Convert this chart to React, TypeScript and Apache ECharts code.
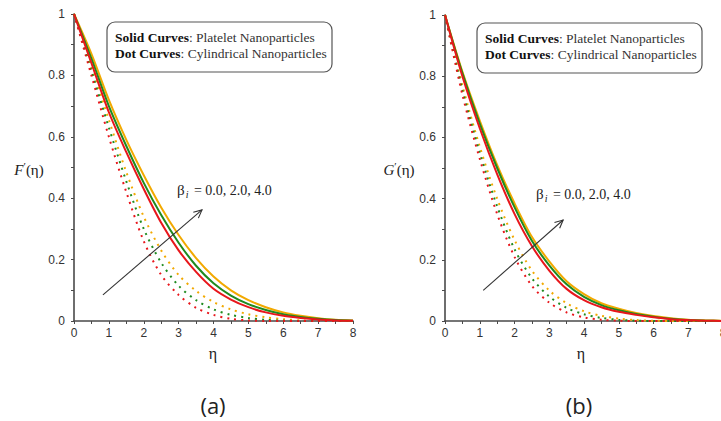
import React, { useEffect, useRef } from "react";
import * as echarts from "echarts";

const ETA = [0, 0.5, 1, 1.5, 2, 2.5, 3, 3.5, 4, 4.5, 5, 5.5, 6, 6.5, 7, 7.5, 8];

// (a) F'(eta)
const F_SOLID_RED = [1, 0.84, 0.68, 0.55, 0.43, 0.32, 0.23, 0.16, 0.105, 0.07, 0.045, 0.028, 0.017, 0.01, 0.005, 0.002, 0.001];
const F_SOLID_GREEN = [1, 0.855, 0.7, 0.57, 0.45, 0.345, 0.255, 0.18, 0.123, 0.083, 0.055, 0.036, 0.022, 0.013, 0.007, 0.003, 0.001];
const F_SOLID_ORANGE = [1, 0.87, 0.72, 0.59, 0.475, 0.37, 0.28, 0.205, 0.145, 0.1, 0.068, 0.045, 0.028, 0.017, 0.009, 0.004, 0.002];
const F_DOT_RED = [1, 0.8, 0.6, 0.42, 0.26, 0.15, 0.085, 0.043, 0.02, 0.007, 0.002, 0, 0, 0, 0, 0, 0];
const F_DOT_GREEN = [1, 0.815, 0.63, 0.455, 0.3, 0.19, 0.115, 0.068, 0.038, 0.02, 0.01, 0.004, 0.001, 0, 0, 0, 0];
const F_DOT_ORANGE = [1, 0.83, 0.655, 0.485, 0.34, 0.23, 0.15, 0.098, 0.062, 0.038, 0.022, 0.012, 0.006, 0.002, 0, 0, 0];

// (b) G'(eta)
const G_SOLID_RED = [1, 0.8, 0.63, 0.48, 0.35, 0.245, 0.165, 0.105, 0.068, 0.045, 0.03, 0.02, 0.012, 0.006, 0.003, 0.001, 0];
const G_SOLID_GREEN = [1, 0.81, 0.645, 0.5, 0.372, 0.262, 0.182, 0.12, 0.079, 0.052, 0.035, 0.023, 0.014, 0.007, 0.003, 0.001, 0];
const G_SOLID_ORANGE = [1, 0.815, 0.655, 0.51, 0.385, 0.275, 0.195, 0.13, 0.088, 0.058, 0.04, 0.026, 0.016, 0.009, 0.004, 0.002, 0.001];
const G_DOT_RED = [1, 0.74, 0.53, 0.35, 0.21, 0.115, 0.06, 0.028, 0.012, 0.004, 0.001, 0, 0, 0, 0, 0, 0];
const G_DOT_GREEN = [1, 0.755, 0.55, 0.375, 0.235, 0.14, 0.08, 0.043, 0.022, 0.01, 0.004, 0.001, 0, 0, 0, 0, 0];
const G_DOT_ORANGE = [1, 0.77, 0.57, 0.4, 0.265, 0.165, 0.1, 0.058, 0.032, 0.017, 0.008, 0.003, 0.001, 0, 0, 0, 0];

// arrow annotations (data space): [start, end]
const F_ARROW = [[0.83, 0.085], [3.67, 0.362]];
const G_ARROW = [[1.1, 0.1], [3.4, 0.33]];

const RED = "#e8161b";
const GREEN = "#1f8a1f";
const ORANGE = "#f2a900";

const SERIF = "Liberation Serif, serif";
const TICKFONT = "Liberation Sans Narrow, Liberation Sans, sans-serif";
const CAPFONT = "Open Sans, sans-serif";

const pairs = (ys: number[]) => ETA.map((x, i) => [x, ys[i]]);

export default function App() {
  const ref = useRef<HTMLDivElement>(null);
  useEffect(() => {
    if (!ref.current) return;
    const chart = echarts.init(ref.current, null, { renderer: "svg" });

    const grids = [
      { left: 74, top: 14, width: 279, height: 307 },
      { left: 445, top: 15, width: 278, height: 306 },
    ];
    const axisLine = { show: true, lineStyle: { color: "#4a4a4a", width: 1.6 } };
    const xAxes = grids.map((_, i) => ({
      type: "value",
      gridIndex: i,
      min: 0,
      max: 8,
      interval: 1,
      axisLine: { ...axisLine, onZero: false },
      axisTick: { show: true, length: 3, lineStyle: { color: "#4a4a4a" } },
      minorTick: { show: true, splitNumber: 2, length: 3, lineStyle: { color: "#4a4a4a" } },
      splitLine: { show: false },
      axisLabel: { margin: 6, color: "#333", fontSize: 12, fontFamily: TICKFONT },
    }));
    const yAxes = grids.map((_, i) => ({
      type: "value",
      gridIndex: i,
      min: 0,
      max: 1,
      interval: 0.2,
      axisLine: { ...axisLine, onZero: false },
      axisTick: { show: true, length: 3, lineStyle: { color: "#4a4a4a" } },
      minorTick: { show: true, splitNumber: 2, length: 3, lineStyle: { color: "#4a4a4a" } },
      splitLine: { show: false },
      axisLabel: { margin: 9, color: "#333", fontSize: 12, fontFamily: TICKFONT },
    }));

    const mk = (name: string, ys: number[], color: string, idx: number, dotted: boolean) => ({
      name,
      type: "line",
      xAxisIndex: idx,
      yAxisIndex: idx,
      data: pairs(ys),
      showSymbol: false,
      smooth: 0.3,
      z: dotted ? 2 : 3,
      lineStyle: dotted
        ? { color, width: 2, type: [2, 5] }
        : { color, width: 2 },
    });

    const series = [
      mk("F dot orange", F_DOT_ORANGE, ORANGE, 0, true),
      mk("F dot green", F_DOT_GREEN, GREEN, 0, true),
      mk("F dot red", F_DOT_RED, RED, 0, true),
      mk("F solid orange", F_SOLID_ORANGE, ORANGE, 0, false),
      mk("F solid green", F_SOLID_GREEN, GREEN, 0, false),
      mk("F solid red", F_SOLID_RED, RED, 0, false),
      mk("G dot orange", G_DOT_ORANGE, ORANGE, 1, true),
      mk("G dot green", G_DOT_GREEN, GREEN, 1, true),
      mk("G dot red", G_DOT_RED, RED, 1, true),
      mk("G solid orange", G_SOLID_ORANGE, ORANGE, 1, false),
      mk("G solid green", G_SOLID_GREEN, GREEN, 1, false),
      mk("G solid red", G_SOLID_RED, RED, 1, false),
    ];

    chart.setOption({
      animation: false,
      backgroundColor: "#ffffff",
      grid: grids,
      xAxis: xAxes,
      yAxis: yAxes,
      series,
    });

    const rich = {
      b: { fontFamily: SERIF, fontWeight: "bold", fontSize: 13.5, fill: "#111" },
      n: { fontFamily: SERIF, fontSize: 13.5, fill: "#333" },
    };
    const legendBox = (x: number, y: number) => [
      {
        type: "rect",
        shape: { x, y, width: 225, height: 50, r: 8 },
        style: { fill: "#fff", stroke: "#555", lineWidth: 1.2 },
        z: 10,
      },
      {
        type: "text",
        x: x + 8,
        y: y + 15,
        z: 11,
        style: { text: "{b|Solid Curves}{n|: Platelet Nanoparticles}", verticalAlign: "middle", rich },
      },
      {
        type: "text",
        x: x + 8,
        y: y + 31,
        z: 11,
        style: { text: "{b|Dot Curves}{n|: Cylindrical Nanoparticles}", verticalAlign: "middle", rich },
      },
    ];

    const arrow = (gi: number, a: number[][]) => {
      const p0 = chart.convertToPixel({ gridIndex: gi }, a[0]) as number[];
      const p1 = chart.convertToPixel({ gridIndex: gi }, a[1]) as number[];
      const ang = Math.atan2(p1[1] - p0[1], p1[0] - p0[0]);
      const L = 9;
      const s = 0.45;
      const h1 = [p1[0] - L * Math.cos(ang - s), p1[1] - L * Math.sin(ang - s)];
      const h2 = [p1[0] - L * Math.cos(ang + s), p1[1] - L * Math.sin(ang + s)];
      return [
        {
          type: "line",
          shape: { x1: p0[0], y1: p0[1], x2: p1[0], y2: p1[1] },
          style: { stroke: "#333", lineWidth: 1.1 },
          z: 12,
        },
        {
          type: "polyline",
          shape: { points: [h1, p1, h2] },
          style: { stroke: "#333", lineWidth: 1.1, fill: null },
          z: 12,
        },
      ];
    };

    const betaText = (x: number, y: number) => ({
      type: "text",
      x,
      y,
      z: 12,
      style: {
        text: "{b|β}{s|i}{n| = 0.0, 2.0, 4.0}",
        verticalAlign: "middle",
        rich: {
          b: { fontFamily: SERIF, fontSize: 15, fill: "#222" },
          s: { fontFamily: SERIF, fontSize: 10, fontStyle: "italic", fill: "#222", padding: [9, 2, 0, 1] },
          n: { fontFamily: SERIF, fontSize: 14, fill: "#222" },
        },
      },
    });

    const yName = (x: number, y: number, letter: string) => ({
      type: "text",
      x,
      y,
      z: 12,
      style: {
        text: "{i|" + letter + "}{p|′}{n|(η)}",
        align: "center",
        verticalAlign: "middle",
        rich: {
          i: { fontFamily: SERIF, fontSize: 15, fontStyle: "italic", fill: "#222" },
          p: { fontFamily: SERIF, fontSize: 11, fill: "#222", padding: [0, 0, 8, 0] },
          n: { fontFamily: SERIF, fontSize: 15, fill: "#222" },
        },
      },
    });

    const plain = (x: number, y: number, text: string, font: string, size: number) => ({
      type: "text",
      x,
      y,
      z: 12,
      style: { text, fontFamily: font, fontSize: size, fill: "#222", align: "center", verticalAlign: "middle" },
    });

    chart.setOption({
      graphic: [
        ...legendBox(107, 22),
        ...legendBox(477, 23),
        ...arrow(0, F_ARROW),
        ...arrow(1, G_ARROW),
        betaText(177, 190),
        betaText(536, 194),
        yName(29, 170, "F"),
        yName(399, 170, "G"),
        plain(213, 353, "η", SERIF, 16),
        plain(581, 353, "η", SERIF, 16),
        plain(213, 405, "(a)", CAPFONT, 22),
        plain(579, 405, "(b)", CAPFONT, 22),
      ],
    });

    return () => chart.dispose();
  }, []);

  return (
    <div
      style={{
        position: "fixed",
        left: 0,
        top: 0,
        width: 721,
        height: 421,
        overflow: "hidden",
        background: "#fff",
      }}
    >
      <div ref={ref} style={{ width: 745, height: 421 }} />
    </div>
  );
}
